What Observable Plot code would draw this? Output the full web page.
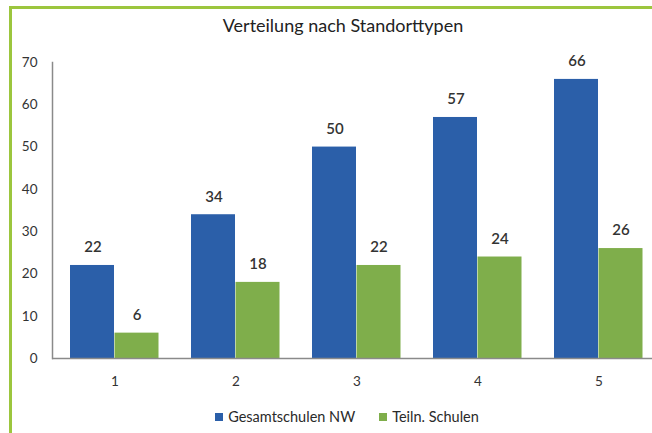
<!DOCTYPE html>
<html>
<head>
<meta charset="utf-8">
<script src="https://cdn.jsdelivr.net/npm/d3@7"></script>
<script src="https://cdn.jsdelivr.net/npm/@observablehq/plot@0.6"></script>
<style>
  html, body { margin: 0; padding: 0; background: #fff; }
  #wrap { position: relative; width: 652px; height: 433px; overflow: hidden; font-family: Lato, "Open Sans", sans-serif; }
  .bl { position: absolute; background: #9cc63e; }
  #title { position: absolute; left: 0; width: 686px; top: 14px; text-align: center; font-size: 18px; color: #222; }
  #chart { position: absolute; left: 0; top: 40px; }
  #legend { position: absolute; top: 408px; left: 0; width: 694px; text-align: center; font-size: 14.5px; color: #2a2a2a; white-space: nowrap; }
  #legend span.sw { display: inline-block; width: 8px; height: 8px; margin-right: 5px; vertical-align: 1px; }
  #legend span.item { margin: 0 12px; }
</style>
</head>
<body>
<div id="wrap">
  <div class="bl" style="left:9px;top:6px;width:643px;height:3px"></div>
  <div class="bl" style="left:9px;top:6px;width:3px;height:427px"></div>
  <div id="title">Verteilung nach Standorttypen</div>
  <div id="chart"></div>
  <div id="legend"></div>
</div>
<script>
const categories = ["1", "2", "3", "4", "5"];
const seriesNames = ["Gesamtschulen NW", "Teiln. Schulen"];
const gesamtschulen = [22, 34, 50, 57, 66];
const teilnSchulen = [6, 18, 22, 24, 26];
const yTicks = [0, 10, 20, 30, 40, 50, 60, 70];
const colors = ["#2b5fa9", "#7fae4b"];

const rowsA = categories.map((c, i) => ({cat: c, value: gesamtschulen[i]}));
const rowsB = categories.map((c, i) => ({cat: c, value: teilnSchulen[i]}));

const plot = Plot.plot({
  width: 652,
  height: 365,
  marginLeft: 52,
  marginRight: 0,
  marginTop: 22,
  marginBottom: 47,
  style: {fontFamily: "Lato, 'Open Sans', sans-serif", fontSize: "13px", color: "#333", background: "transparent"},
  x: {domain: categories, range: [52, 660], padding: 0, label: null},
  y: {domain: [0, 70], label: null},
  marks: [
    Plot.barY(rowsA, {x: "cat", y: "value", fill: colors[0], insetLeft: 16, insetRight: 61}),
    Plot.barY(rowsB, {x: "cat", y: "value", fill: colors[1], insetLeft: 60.5, insetRight: 16.5}),
    Plot.text(rowsA, {x: "cat", y: "value", text: d => String(d.value), dx: -22, dy: -18, fontSize: 15, fontWeight: 600, fill: "#333"}),
    Plot.text(rowsB, {x: "cat", y: "value", text: d => String(d.value), dx: 22, dy: -18, fontSize: 15, fontWeight: 600, fill: "#333"}),
    Plot.frame({anchor: "left", stroke: "#8a8a8a", strokeWidth: 1.5}),
    Plot.ruleY([0], {stroke: "#8a8a8a", strokeWidth: 1.5}),
    Plot.axisY({ticks: yTicks, tickSize: 0, tickPadding: 15, fontSize: 13.5, fill: "#333"}),
    Plot.axisX({tickSize: 0, tickPadding: 18, fontSize: 13.5, fill: "#333"})
  ]
});
document.getElementById("chart").appendChild(plot);

const legend = document.getElementById("legend");
seriesNames.forEach((name, i) => {
  const item = document.createElement("span");
  item.className = "item";
  const sw = document.createElement("span");
  sw.className = "sw";
  sw.style.background = colors[i];
  item.appendChild(sw);
  item.appendChild(document.createTextNode(name));
  legend.appendChild(item);
});
</script>
</body>
</html>
